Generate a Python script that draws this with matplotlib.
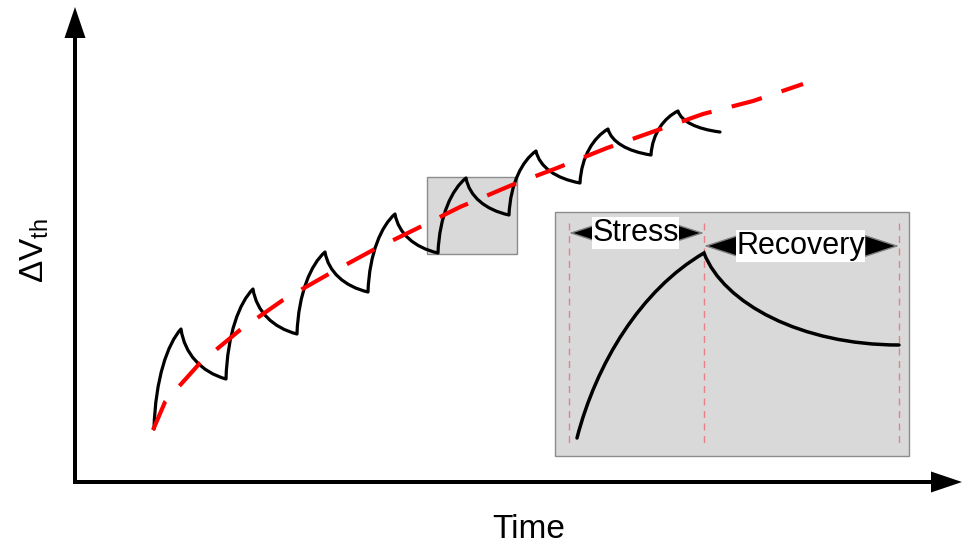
import numpy as np
import matplotlib.pyplot as plt
from matplotlib.path import Path
from matplotlib.patches import PathPatch, Rectangle

plt.rcParams['font.family'] = ['Liberation Sans', 'DejaVu Sans']
plt.rcParams['mathtext.default'] = 'regular'

# sawtooth key points (pixel coords, y downwards)
start_x = [154, 226, 297, 368, 438, 509, 580, 651]
start_y = [429, 379, 334, 292, 253, 215, 183, 155]
peak_x = [181, 253, 325, 395, 466, 536, 608, 678]
peak_y = [329, 289, 252, 214, 178, 151, 129, 111]
end_x, end_y = 720, 132

# red dashed trend
trend_x = [153, 165, 200, 240, 283, 327, 373, 418, 460, 512, 557, 607, 655, 703, 753, 803]
trend_y = [430, 402, 363, 330, 300, 275, 250, 228, 207, 185, 168, 148, 131, 114, 101, 84]

# inset: start, peak, end of one cycle + phase borders
inset_x = [577, 704, 899]
inset_y = [438, 253, 345]
phase_x = [569, 704, 899]
phase_labels = ['Stress', 'Recovery']


def bez(p0, p1, f1, f2):
    dx, dy = p1[0] - p0[0], p1[1] - p0[1]
    c1 = (p0[0] + f1[0] * dx, p0[1] + f1[1] * dy)
    c2 = (p0[0] + f2[0] * dx, p0[1] + f2[1] * dy)
    return [c1, c2, p1]


fig = plt.figure(figsize=(9.63, 5.45), dpi=100)
ax = fig.add_axes([0, 0, 1, 1])
ax.set_xlim(0, 963)
ax.set_ylim(545, 0)
ax.axis('off')

# axes arrows
ax.arrow(75, 484, 0, -477, width=4, head_width=21, head_length=31,
         length_includes_head=True, fc='black', ec='none', zorder=2)
ax.arrow(73, 482, 889, 0, width=4, head_width=21, head_length=31,
         length_includes_head=True, fc='black', ec='none', zorder=2)

# small highlight box
ax.add_patch(Rectangle((427, 177), 90, 77, fc='#d9d9d9', ec='#8c8c8c', lw=1, zorder=1))

# sawtooth
verts = [(start_x[0], start_y[0])]
codes = [Path.MOVETO]
nxt_x = start_x[1:] + [end_x]
nxt_y = start_y[1:] + [end_y]
for i in range(len(start_x)):
    verts += bez((start_x[i], start_y[i]), (peak_x[i], peak_y[i]), (0.05, 0.5), (0.5, 0.85))
    verts += bez((peak_x[i], peak_y[i]), (nxt_x[i], nxt_y[i]), (0.08, 0.5), (0.45, 0.86))
    codes += [Path.CURVE4] * 6
ax.add_patch(PathPatch(Path(verts, codes), fill=False, lw=2.3, ec='black',
                       joinstyle='round', capstyle='round', zorder=3))

# trend
ax.plot(trend_x, trend_y, color='#ff0000', lw=3, dashes=(7.5, 5), dash_capstyle='butt', zorder=4)

# inset
ax.add_patch(Rectangle((555, 212), 354, 244, fc='#d9d9d9', ec='#8c8c8c', lw=1, zorder=5))
ax.vlines(phase_x, 223, 448, colors='#e8808a', lw=1, linestyles=(0, (5, 4)), zorder=6)
iv = [(inset_x[0], inset_y[0])]
iv += bez((inset_x[0], inset_y[0]), (inset_x[1], inset_y[1]), (0.15, 0.4), (0.5, 0.8))
iv += bez((inset_x[1], inset_y[1]), (inset_x[2], inset_y[2]), (0.1, 0.55), (0.5, 1.0))
ax.add_patch(PathPatch(Path(iv, [Path.MOVETO] + [Path.CURVE4] * 6), fill=False, lw=2.5,
                       ec='black', capstyle='round', zorder=7))

arrow_y = [233, 246]
for i, lab in enumerate(phase_labels):
    ax.annotate('', xy=(phase_x[i], arrow_y[i]), xytext=(phase_x[i + 1], arrow_y[i]),
                arrowprops=dict(arrowstyle='<|-|>,head_length=2.3,head_width=0.75',
                                fc='black', ec='#7f7f7f', lw=1, shrinkA=0, shrinkB=0,
                                mutation_scale=10), zorder=8)
    ax.text((phase_x[i] + phase_x[i + 1]) / 2 - 1, arrow_y[i], lab,
            fontsize=22, ha='center', va='center', zorder=9,
            bbox=dict(fc='white', ec='none', pad=0.5))

ax.text(529, 530, 'Time', fontsize=24, ha='center', va='center')
ax.text(35, 251, '$ΔV_{th}$', fontsize=24, ha='center', va='center', rotation=90)

fig.savefig('out.png', dpi=100)
